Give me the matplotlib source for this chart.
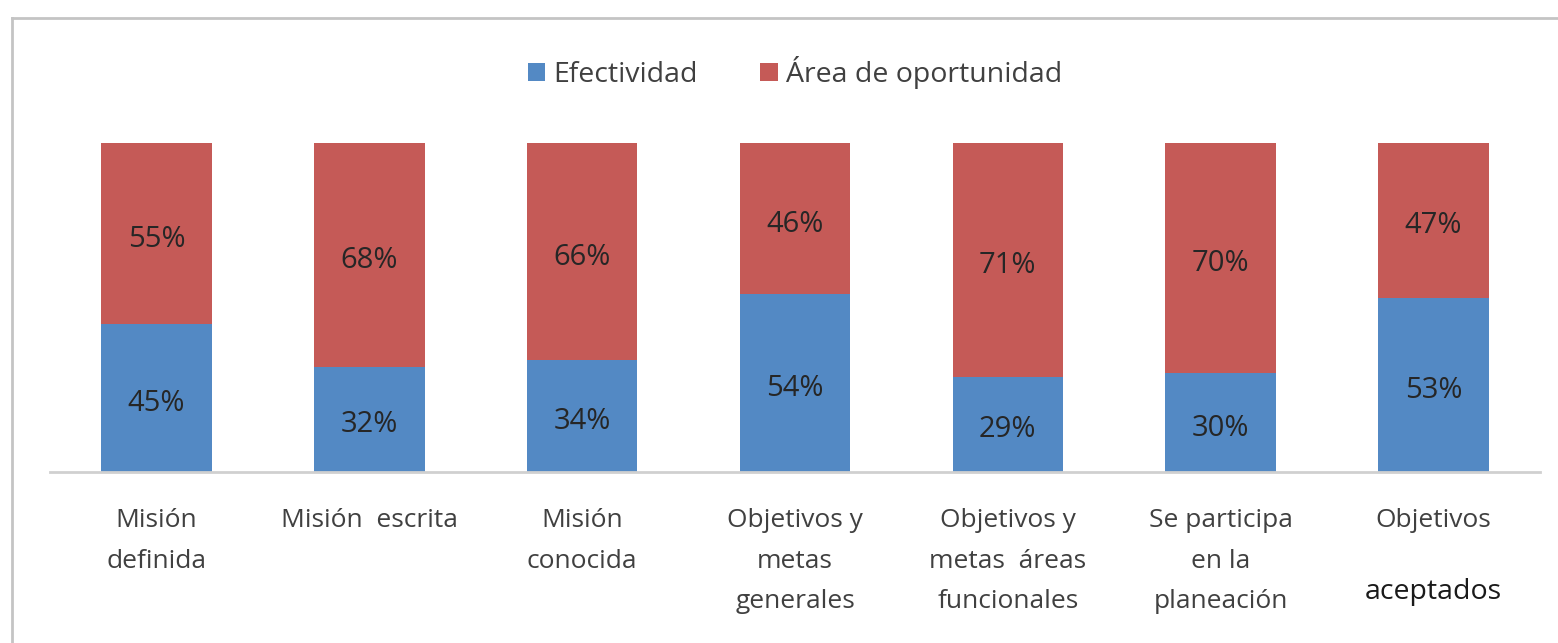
import matplotlib.pyplot as plt
from matplotlib.lines import Line2D
import numpy as np

plt.rcParams['font.family'] = ['Open Sans', 'DejaVu Sans']

# categories and values (%)
categorias = ['Misión\ndefinida', 'Misión  escrita', 'Misión\nconocida',
              'Objetivos y\nmetas\ngenerales', 'Objetivos y\nmetas  áreas\nfuncionales',
              'Se participa\nen la\nplaneación', 'Objetivos']
efectividad = [45, 32, 34, 54, 29, 30, 53]
oportunidad = [55, 68, 66, 46, 71, 70, 47]

azul = '#5389C4'
rojo = '#C55A57'
gris_txt = '#404040'

fig = plt.figure(figsize=(15.58, 6.43), dpi=100)
ax = fig.add_axes([50/1558, 1-472/643, 1490/1558, 329/643])

x = np.arange(len(categorias))
b1 = ax.bar(x, efectividad, width=0.52, color=azul, label='Efectividad')
b2 = ax.bar(x, oportunidad, width=0.52, bottom=efectividad, color=rojo,
            label='Área de oportunidad')

for bars, vals in ((b1, efectividad), (b2, oportunidad)):
    ax.bar_label(bars, labels=[f'{v}%' for v in vals], label_type='center',
                 fontsize=21, color='#262626', padding=-4)

ax.set_xlim(-0.5, 6.5)
ax.set_ylim(0, 100)
ax.set_yticks([])
for s in ['top', 'right', 'left']:
    ax.spines[s].set_visible(False)
ax.spines['bottom'].set_color('#d0d0d0')
ax.spines['bottom'].set_linewidth(2)

ax.set_xticks(x)
ax.set_xticklabels(categorias, fontsize=19, color=gris_txt, linespacing=1.82, va='top')
ax.tick_params(axis='x', length=0, pad=26)

# "aceptados" sits lower and darker under the last label
ax.text(6, -0.365, 'aceptados', transform=ax.get_xaxis_transform(),
        ha='center', va='center', fontsize=20.5, color='#1a1a1a')

ax.legend(loc='center', bbox_to_anchor=(0.5, 1.215), ncol=2, frameon=False,
          fontsize=20.5, handlelength=0.6, handleheight=0.6, handletextpad=0.3,
          columnspacing=2.2, labelcolor=gris_txt)

# outer chart frame (only top and left visible in the crop)
fig.add_artist(Line2D([12/1558, 1], [1-18/643, 1-18/643], color='#c4c4c4', lw=2,
                      transform=fig.transFigure))
fig.add_artist(Line2D([12/1558, 12/1558], [0, 1-18/643], color='#c4c4c4', lw=2,
                      transform=fig.transFigure))

fig.savefig('out.png', dpi=100)
